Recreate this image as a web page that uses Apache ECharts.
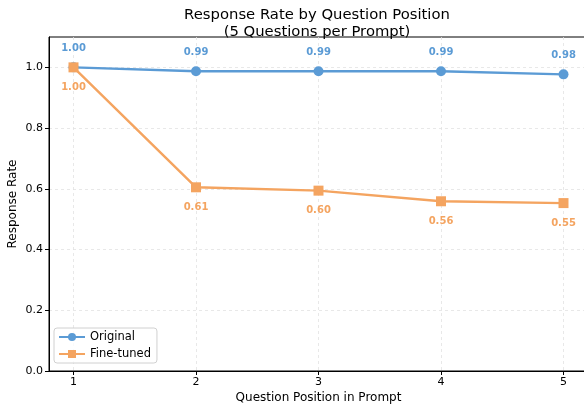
<!DOCTYPE html>
<html><head><meta charset="utf-8">
<script src="https://cdn.jsdelivr.net/npm/echarts@6/dist/echarts.min.js"></script>
<style>html,body{margin:0;padding:0;background:#fff}#c{width:584px;height:410px}</style>
</head><body><div id="c"></div>
<script>
const positions = [1, 2, 3, 4, 5];
const original = [1.00, 0.987, 0.987, 0.987, 0.977];
const fineTuned = [1.00, 0.605, 0.594, 0.559, 0.553];
const originalLabels = ['1.00', '0.99', '0.99', '0.99', '0.98'];
const fineTunedLabels = ['1.00', '0.61', '0.60', '0.56', '0.55'];
const yTicks = [0, 0.2, 0.4, 0.6, 0.8, 1.0];

const FONT = 'DejaVu Sans';
const BLUE = '#5b9bd5';
const ORANGE = '#f4a460';

const chart = echarts.init(document.getElementById('c'), null, {renderer: 'canvas'});
chart.setOption({
  animation: false,
  textStyle: {fontFamily: FONT},
  title: {
    text: 'Response Rate by Question Position\n(5 Questions per Prompt)',
    left: 312, top: 2, textAlign: 'center',
    textStyle: {fontFamily: FONT, fontSize: 14.8, fontWeight: 'normal', color: '#000', lineHeight: 16.5}
  },
  grid: {left: 49, width: 539, top: 37, height: 334, outerBoundsMode: 'none', containLabel: false,
    show: true, borderColor: '#000', borderWidth: 1, backgroundColor: 'transparent'},
  legend: {
    left: 54, top: 328, orient: 'vertical', itemWidth: 26, itemHeight: 10, itemGap: 5,
    borderColor: '#d0d0d0', borderWidth: 1, borderRadius: 3, padding: [3, 6, 3, 4],
    backgroundColor: 'rgba(255,255,255,0.8)',
    textStyle: {fontFamily: FONT, fontSize: 11.5, color: '#000'},
    data: ['Original', 'Fine-tuned']
  },
  xAxis: {
    type: 'value', min: 0.8, max: 5.2,
    name: 'Question Position in Prompt', nameLocation: 'middle', nameGap: 21, nameMoveOverlap: false,
    nameTextStyle: {fontFamily: FONT, fontSize: 12, color: '#000'},
    axisLine: {show: true, lineStyle: {color: '#000', width: 1}},
    axisTick: {show: true, customValues: positions, length: 4, lineStyle: {color: '#000'}},
    axisLabel: {customValues: positions, fontFamily: FONT, fontSize: 11, color: '#000', margin: 6, formatter: v => String(v)},
    splitLine: {show: true, lineStyle: {color: '#e3e3e3', type: [3, 3], width: 0.8}}
  },
  yAxis: {
    type: 'value', min: 0, max: 1.1,
    name: 'Response Rate', nameLocation: 'middle', nameGap: 30, nameRotate: 90, nameMoveOverlap: false,
    nameTextStyle: {fontFamily: FONT, fontSize: 12, color: '#000'},
    axisLine: {show: true, lineStyle: {color: '#000', width: 1}},
    axisTick: {show: true, customValues: yTicks, length: 4, lineStyle: {color: '#000'}},
    axisLabel: {customValues: yTicks, fontFamily: FONT, fontSize: 11, color: '#000', margin: 6, formatter: v => v.toFixed(1)},
    splitLine: {show: true, lineStyle: {color: '#e3e3e3', type: [3, 3], width: 0.8}}
  },
  series: [
    {
      name: 'Original', type: 'line', z: 3,
      data: positions.map((p, i) => [p, original[i]]),
      symbol: 'circle', symbolSize: 10,
      itemStyle: {color: BLUE}, lineStyle: {color: BLUE, width: 2.4},
      label: {show: true, position: 'top', distance: 9, fontFamily: FONT, fontSize: 10, fontWeight: 'bold', color: BLUE,
        formatter: p => originalLabels[p.dataIndex]}
    },
    {
      name: 'Fine-tuned', type: 'line', z: 4,
      data: positions.map((p, i) => [p, fineTuned[i]]),
      symbol: 'rect', symbolSize: 10,
      itemStyle: {color: ORANGE}, lineStyle: {color: ORANGE, width: 2.4},
      label: {show: true, position: 'bottom', distance: 10, fontFamily: FONT, fontSize: 10, fontWeight: 'bold', color: ORANGE,
        formatter: p => fineTunedLabels[p.dataIndex]}
    }
  ]
});
</script></body></html>
